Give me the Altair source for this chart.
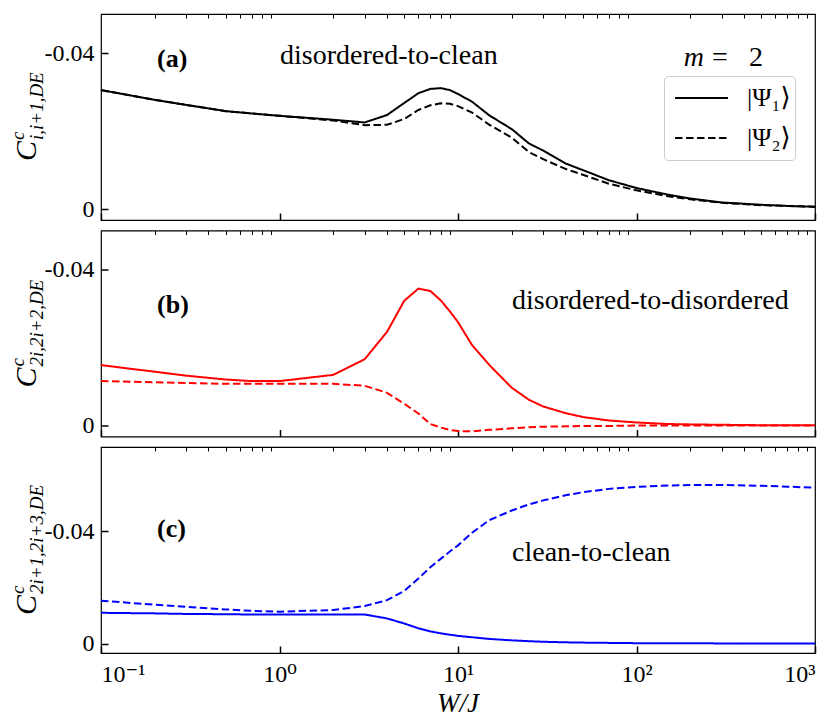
import altair as alt
import pandas as pd

# ---------------- data ----------------
W = [0.1, 0.2, 0.3, 0.5, 0.7, 1, 2, 3, 4, 5, 6, 7, 8, 9, 10, 12, 15, 20, 25, 30,
     40, 50, 70, 100, 150, 200, 300, 500, 700, 1000]
STATES = ["|Ψ₁⟩", "|Ψ₂⟩"]

a_psi1 = [-0.0305, -0.0280, -0.0267, -0.0251, -0.0245, -0.0239, -0.0229, -0.0222, -0.0241, -0.0272,
          -0.0297, -0.0308, -0.0310, -0.0305, -0.0295, -0.0275, -0.0240, -0.0205, -0.0168, -0.0150,
          -0.0117, -0.0100, -0.0074, -0.0054, -0.0037, -0.0027, -0.0017, -0.0011, -0.0008, -0.0006]
a_psi2 = [-0.0305, -0.0280, -0.0267, -0.0251, -0.0245, -0.0239, -0.0227, -0.0215, -0.0216, -0.0231,
          -0.0254, -0.0266, -0.0271, -0.0270, -0.0264, -0.0247, -0.0216, -0.0183, -0.0146, -0.0128,
          -0.0103, -0.0088, -0.0065, -0.0048, -0.0033, -0.0025, -0.0016, -0.0010, -0.0008, -0.0006]
b_psi1 = [-0.0155, -0.0138, -0.0128, -0.0118, -0.0114, -0.0114, -0.0130, -0.0170, -0.0240, -0.0320,
          -0.0351, -0.0345, -0.0321, -0.0293, -0.0265, -0.0206, -0.0155, -0.0097, -0.0066, -0.0049,
          -0.0032, -0.0022, -0.0013, -0.0008, -0.0004, -0.0003, -0.0002, -0.0001, -0.0001, -0.0001]
b_psi2 = [-0.0114, -0.0111, -0.0109, -0.0107, -0.0107, -0.0107, -0.0107, -0.0102, -0.0084, -0.0056,
          -0.0031, -0.0004, 0.0005, 0.0011, 0.0014, 0.0015, 0.0011, 0.0007, 0.0004, 0.0003,
          0.0002, 0.0001, 0.0001, 0.0000, 0.0000, 0.0000, 0.0000, 0.0000, 0.0000, 0.0000]
c_psi1 = [-0.0110, -0.0108, -0.0106, -0.0105, -0.0104, -0.0104, -0.0104, -0.0104, -0.0090, -0.0072,
          -0.0055, -0.0044, -0.0037, -0.0032, -0.0028, -0.0023, -0.0017, -0.0012, -0.0009, -0.0007,
          -0.0005, -0.0004, -0.0003, -0.0002, -0.0002, -0.0002, -0.0001, -0.0001, -0.0001, -0.0001]
c_psi2 = [-0.0153, -0.0139, -0.0131, -0.0122, -0.0117, -0.0114, -0.0120, -0.0134, -0.0155, -0.0188,
          -0.0232, -0.0272, -0.0302, -0.0328, -0.0350, -0.0395, -0.0440, -0.0474, -0.0496, -0.0510,
          -0.0528, -0.0539, -0.0551, -0.0558, -0.0563, -0.0565, -0.0565, -0.0562, -0.0559, -0.0555]

X_MAJOR = [0.1, 1, 10, 100, 1000]
X_MINOR = [0.2, 0.3, 0.4, 0.5, 0.6, 0.7, 0.8, 0.9,
           2, 3, 4, 5, 6, 7, 8, 9,
           20, 30, 40, 50, 60, 70, 80, 90,
           200, 300, 400, 500, 600, 700, 800, 900]
Y_TICKS = [-0.04, 0]

# ---------------- styling ----------------
FONT = "Liberation Serif, DejaVu Serif, Times New Roman, serif"
PW, PH = 714, 206
XSCALE = alt.Scale(type="log", domain=[0.1, 1000], nice=False)
DASH = alt.Scale(domain=STATES, range=[[1, 0], [7.5, 3.5]])
X_LABEL_EXPR = ("datum.value < 0.5 ? '10⁻¹' : datum.value < 5 ? '10⁰' : "
                "datum.value < 50 ? '10¹' : datum.value < 500 ? '10²' : '10³'")
Y_LABEL_EXPR = "datum.value == 0 ? '0' : '-' + format(-datum.value, '.2f')"


def txt(text, x, y, size, align="left", style="normal", weight="normal", angle=0):
    return alt.Chart(pd.DataFrame({"t": [text]})).mark_text(
        font=FONT, fontSize=size, fontStyle=style, fontWeight=weight,
        align=align, baseline="alphabetic", angle=angle, color="black"
    ).encode(text="t:N", x=alt.value(x), y=alt.value(y))


def panel(s1, s2, color, ydom, letter, letter_y, label, label_x, label_y,
          sub, title_start, bottom, legend, extra=()):
    df = pd.DataFrame({"W": W + W, "C": s1 + s2,
                       "state": [STATES[0]] * len(W) + [STATES[1]] * len(W)})
    xkw = dict(values=X_MAJOR, tickSize=7, offset=-7, domain=False, grid=False,
               tickWidth=1.5, tickColor="black", labels=bottom, title=None)
    if bottom:
        xkw.update(labelExpr=X_LABEL_EXPR, labelFont=FONT, labelFontSize=24,
                   labelColor="black", labelPadding=28, labelBaseline="alphabetic")
    x_axis = alt.Axis(**xkw)
    y_axis = alt.Axis(values=Y_TICKS, tickSize=7, offset=-7, domain=False, grid=False,
                      tickWidth=1.5, tickColor="black", labelExpr=Y_LABEL_EXPR,
                      labelFont=FONT, labelFontSize=24, labelColor="black",
                      labelPadding=7, labelBaseline="middle", title=None)
    lines = alt.Chart(df).mark_line(color=color, strokeWidth=2).encode(
        x=alt.X("W:Q", scale=XSCALE, axis=x_axis),
        y=alt.Y("C:Q", scale=alt.Scale(domain=ydom, reverse=True, nice=False, zero=False),
                axis=y_axis),
        strokeDash=alt.StrokeDash("state:N", scale=DASH, legend=legend),
    )
    minor_axis = alt.Axis(values=X_MINOR, tickSize=4, offset=-4, domain=False, grid=False,
                          tickWidth=1, tickColor="black", labels=False, title=None)
    letter_layer = alt.Chart(pd.DataFrame({"W": [0.206], "t": [letter]})).mark_text(
        font=FONT, fontSize=26, fontWeight="bold", align="left", baseline="alphabetic",
        color="black"
    ).encode(x=alt.X("W:Q", scale=XSCALE, axis=minor_axis), y=alt.value(letter_y), text="t:N")
    layers = [lines, letter_layer,
              txt(label, label_x, label_y, 28),
              # y-axis title  C^c_{sub}
              txt("C", -65, title_start, 30, style="italic", angle=270),
              txt("c", -77, title_start - 21, 19, style="italic", angle=270),
              txt(sub, -58, title_start - 21, 19, style="italic", angle=270)]
    if bottom:
        layers.append(txt("W/J", PW / 2, PH + 59, 27, align="center", style="italic"))
    layers += list(extra)
    return alt.layer(*layers).resolve_axis(x="independent").properties(width=PW, height=PH)


legend_a = alt.Legend(title=None, orient="none", legendX=563, legendY=62,
                      symbolType="stroke", symbolSize=2800, symbolStrokeWidth=2,
                      symbolStrokeColor="black", symbolOffset=6,
                      labelFont=FONT, labelFontSize=26, labelColor="black",
                      labelOffset=18, padding=4, clipHeight=36, rowPadding=4,
                      strokeColor="#cccccc", cornerRadius=4, fillColor="white")

pa = panel(a_psi1, a_psi2, "black", [-0.05, 0.0028], "(a)", 53,
           "disordered-to-clean", 179, 50, "i,i+1,DE", 147, False, legend_a,
           extra=[txt("m", 603, 52, 28, align="right", style="italic"),
                  txt("=", 619, 52, 28, align="center"),
                  txt("2", 655, 52, 28, align="center")])
pb = panel(b_psi1, b_psi2, "#ff0000", [-0.05, 0.0028], "(b)", 82,
           "disordered-to-disordered", 411, 78, "2i,2i+2,DE", 157, False, None)
pc = panel(c_psi1, c_psi2, "#0000ff", [-0.07, 0.0033], "(c)", 90,
           "clean-to-clean", 411, 114, "2i+1,2i+3,DE", 168, True, None)

chart = alt.vconcat(pa, pb, pc, spacing=6.5).resolve_legend(
    strokeDash="independent"
).configure_view(stroke="black", strokeWidth=1.2).properties(
    padding={"left": 0, "top": 4, "right": 0, "bottom": 0}
)

chart.save("out.html", embed_options={"renderer": "svg", "actions": False})
